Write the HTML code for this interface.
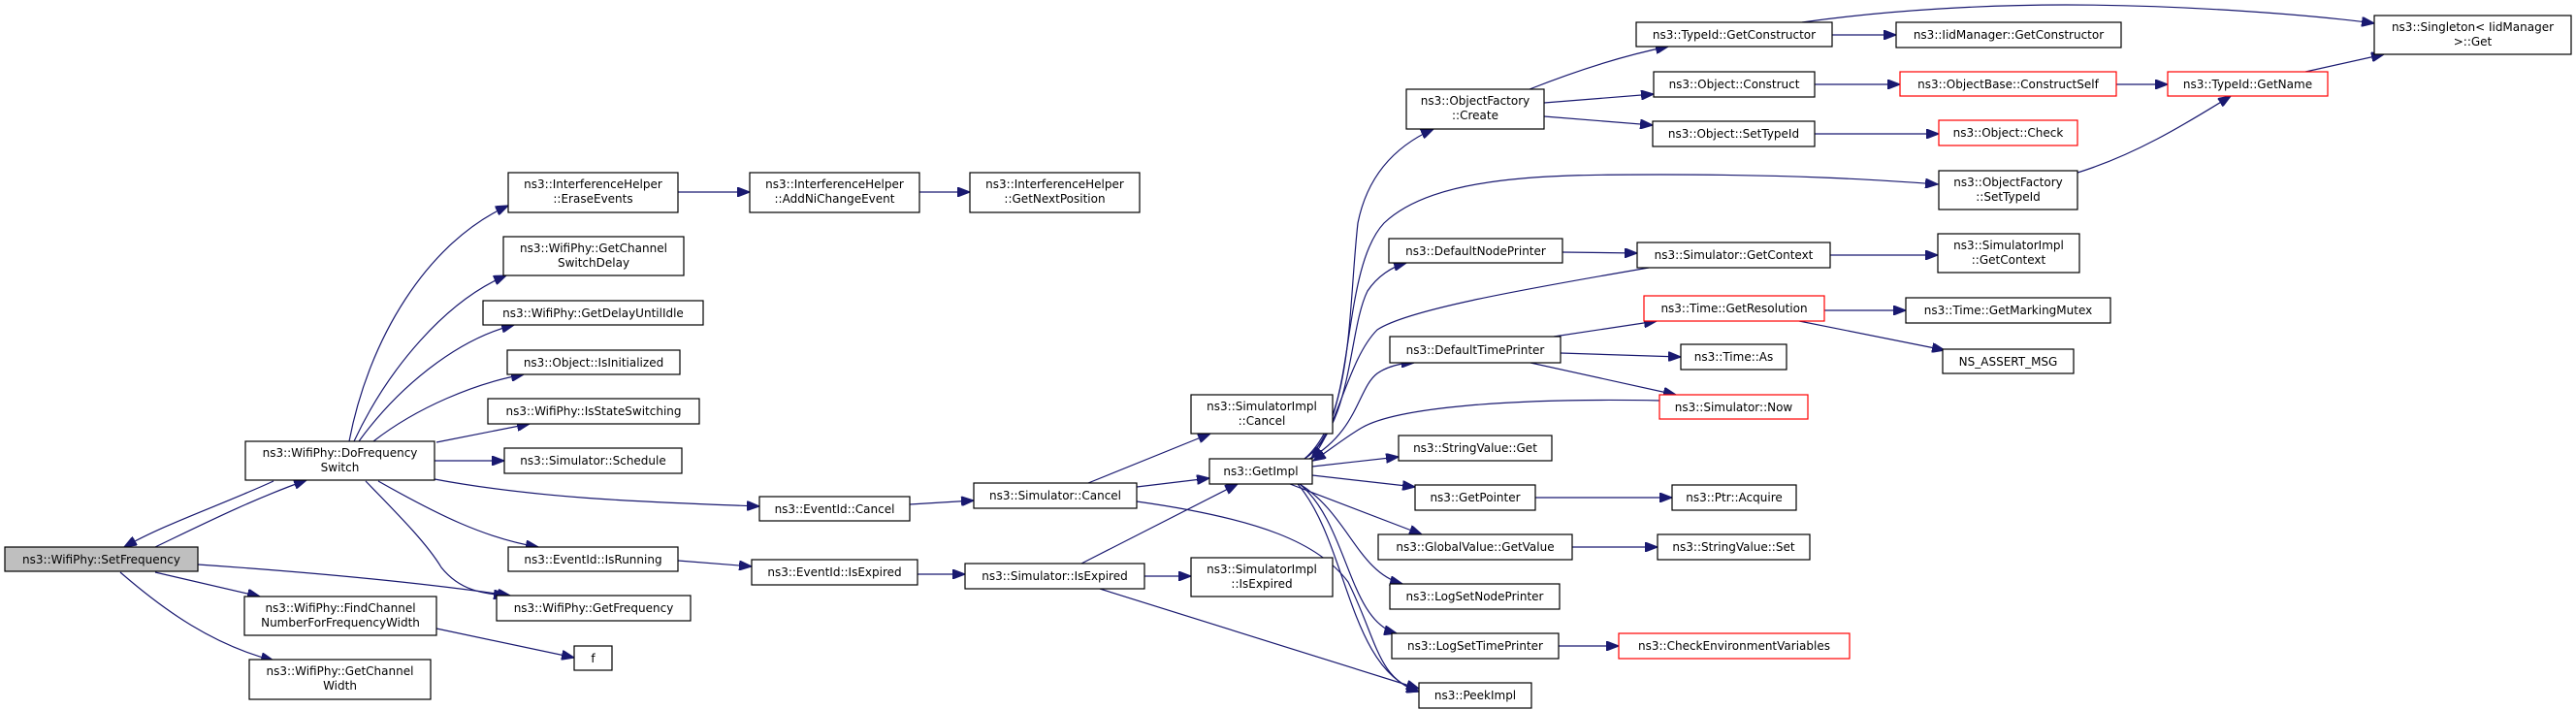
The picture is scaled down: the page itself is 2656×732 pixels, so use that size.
<!DOCTYPE html>
<html><head><meta charset="utf-8"><style>
html,body{margin:0;padding:0;background:#fff;}
svg{display:block;}
text{font-family:"DejaVu Sans","Liberation Sans",sans-serif;font-size:12px;fill:#000;}
.b{fill:#fff;stroke:#000;stroke-width:1.2;}
.r{fill:#fff;stroke:#f00;stroke-width:1.2;}
.g{fill:#bfbfbf;stroke:#000;stroke-width:1.2;}
path{fill:none;stroke:#191970;stroke-width:1.2;}
</style></head><body>
<svg width="2656" height="732" viewBox="0 0 2656 732" xmlns="http://www.w3.org/2000/svg">
<defs><marker id="a" markerUnits="userSpaceOnUse" markerWidth="14" markerHeight="10" refX="13" refY="5" orient="auto"><path d="M0,0 L13,5 L0,10 Z" style="fill:#191970;stroke:#191970"/></marker></defs>
<g marker-end="url(#a)">
<path d="M160,564 C210,540 260,515 316,495"/>
<path d="M282,496 C230,520 170,540 128,564"/>
<path d="M204,582 C320,590 430,600 526,614"/>
<path d="M160,590 L268,615"/>
<path d="M124,590 C170,630 220,665 282,681"/>
<path d="M360,455 C380,350 440,250 524,212"/>
<path d="M365,455 C400,380 460,310 522,284"/>
<path d="M370,455 C410,400 470,350 530,335"/>
<path d="M385,455 C430,420 490,395 540,386"/>
<path d="M450,456 L546,437"/>
<path d="M448,475 L520,475"/>
<path d="M448,494 C560,515 680,518 783,522"/>
<path d="M390,496 C450,530 500,555 555,564"/>
<path d="M377,496 C410,530 440,560 455,585 C475,610 500,612 522,614"/>
<path d="M699,198 L773,198"/>
<path d="M948,198 L1000,198"/>
<path d="M699,578 L775,584"/>
<path d="M938,520 L1004,516"/>
<path d="M946,592 L995,592"/>
<path d="M1122,498 L1248,447"/>
<path d="M1172,502 L1247,493"/>
<path d="M1172,517 C1300,535 1360,560 1390,600 C1420,660 1420,700 1463,713"/>
<path d="M1115,581 L1276,499"/>
<path d="M1180,594 L1228,594"/>
<path d="M1134,607 L1463,710"/>
<path d="M1345,473 C1395,430 1390,320 1400,230 C1410,180 1440,150 1478,133"/>
<path d="M1345,473 C1395,440 1390,340 1410,300 C1420,285 1435,275 1450,271"/>
<path d="M1350,473 C1400,445 1400,400 1420,385 C1430,378 1445,374 1458,374"/>
<path d="M1353,481 L1442,471"/>
<path d="M1353,490 L1459,502"/>
<path d="M1330,499 L1466,551"/>
<path d="M1340,499 C1390,530 1400,590 1446,602"/>
<path d="M1340,499 C1390,540 1390,640 1440,653"/>
<path d="M1338,499 C1390,560 1390,690 1463,713"/>
<path d="M1700,276 C1560,300 1450,320 1420,340 C1390,370 1380,440 1352,473"/>
<path d="M1345,473 C1400,440 1380,280 1427,230 C1480,180 1600,180 1712,180 C1850,180 1930,185 1998,190"/>
<path d="M1712,413 C1560,410 1440,420 1404,441 C1385,452 1370,465 1354,475"/>
<path d="M1611,260 L1688,261"/>
<path d="M1887,263 L1998,263"/>
<path d="M1577,92 C1620,75 1670,58 1720,48"/>
<path d="M1592,106 L1705,97"/>
<path d="M1592,120 L1704,129"/>
<path d="M1889,36 L1955,36"/>
<path d="M1858,23 C1950,10 2050,5 2130,5 C2250,5 2380,15 2448,24"/>
<path d="M1871,87 L1959,87"/>
<path d="M2182,87 L2235,87"/>
<path d="M2377,74 L2458,56"/>
<path d="M1871,138 L1999,138"/>
<path d="M2142,178 C2200,160 2250,130 2300,99"/>
<path d="M1602,347 L1708,331"/>
<path d="M1609,364 L1733,368"/>
<path d="M1578,374 L1728,407"/>
<path d="M1881,320 L1965,320"/>
<path d="M1855,331 L2005,361"/>
<path d="M1583,513 L1724,513"/>
<path d="M1621,564 L1709,564"/>
<path d="M1607,666 L1669,666"/>
<path d="M450,648 L592,678"/>
</g>
<g text-anchor="middle">
<rect class="g" x="5" y="564" width="199" height="25"/><text x="104.5" y="581">ns3::WifiPhy::SetFrequency</text>
<rect class="b" x="253" y="455" width="195" height="40"/><text x="350.5" y="471">ns3::WifiPhy::DoFrequency</text><text x="350.5" y="486">Switch</text>
<rect class="b" x="524" y="178" width="175" height="41"/><text x="611.5" y="194">ns3::InterferenceHelper</text><text x="611.5" y="209">::EraseEvents</text>
<rect class="b" x="519" y="244" width="186" height="40"/><text x="612" y="260">ns3::WifiPhy::GetChannel</text><text x="612" y="275">SwitchDelay</text>
<rect class="b" x="498" y="310" width="227" height="25"/><text x="611.5" y="327">ns3::WifiPhy::GetDelayUntilIdle</text>
<rect class="b" x="523" y="361" width="178" height="25"/><text x="612" y="378">ns3::Object::IsInitialized</text>
<rect class="b" x="503" y="411" width="218" height="26"/><text x="612" y="428">ns3::WifiPhy::IsStateSwitching</text>
<rect class="b" x="520" y="462" width="183" height="26"/><text x="611.5" y="479">ns3::Simulator::Schedule</text>
<rect class="b" x="524" y="564" width="175" height="25"/><text x="611.5" y="581">ns3::EventId::IsRunning</text>
<rect class="b" x="512" y="614" width="200" height="26"/><text x="612" y="631">ns3::WifiPhy::GetFrequency</text>
<rect class="b" x="252" y="615" width="198" height="40"/><text x="351" y="631">ns3::WifiPhy::FindChannel</text><text x="351" y="646">NumberForFrequencyWidth</text>
<rect class="b" x="592" y="666" width="39" height="25"/><text x="611.5" y="683">f</text>
<rect class="b" x="257" y="680" width="187" height="41"/><text x="350.5" y="696">ns3::WifiPhy::GetChannel</text><text x="350.5" y="711">Width</text>
<rect class="b" x="773" y="178" width="175" height="41"/><text x="860.5" y="194">ns3::InterferenceHelper</text><text x="860.5" y="209">::AddNiChangeEvent</text>
<rect class="b" x="1000" y="178" width="175" height="41"/><text x="1087.5" y="194">ns3::InterferenceHelper</text><text x="1087.5" y="209">::GetNextPosition</text>
<rect class="b" x="1228" y="407" width="146" height="40"/><text x="1301" y="423">ns3::SimulatorImpl</text><text x="1301" y="438">::Cancel</text>
<rect class="b" x="1247" y="473" width="106" height="26"/><text x="1300" y="490">ns3::GetImpl</text>
<rect class="b" x="1004" y="498" width="168" height="26"/><text x="1088" y="515">ns3::Simulator::Cancel</text>
<rect class="b" x="783" y="512" width="155" height="25"/><text x="860.5" y="529">ns3::EventId::Cancel</text>
<rect class="b" x="775" y="577" width="171" height="26"/><text x="860.5" y="594">ns3::EventId::IsExpired</text>
<rect class="b" x="995" y="581" width="185" height="26"/><text x="1087.5" y="598">ns3::Simulator::IsExpired</text>
<rect class="b" x="1228" y="575" width="146" height="40"/><text x="1301" y="591">ns3::SimulatorImpl</text><text x="1301" y="606">::IsExpired</text>
<rect class="b" x="1687" y="23" width="202" height="25"/><text x="1788" y="40">ns3::TypeId::GetConstructor</text>
<rect class="b" x="1450" y="92" width="142" height="41"/><text x="1521" y="108">ns3::ObjectFactory</text><text x="1521" y="123">::Create</text>
<rect class="b" x="1705" y="74" width="166" height="26"/><text x="1788" y="91">ns3::Object::Construct</text>
<rect class="b" x="1704" y="125" width="167" height="26"/><text x="1787.5" y="142">ns3::Object::SetTypeId</text>
<rect class="b" x="1432" y="246" width="179" height="25"/><text x="1521.5" y="263">ns3::DefaultNodePrinter</text>
<rect class="b" x="1688" y="250" width="199" height="26"/><text x="1787.5" y="267">ns3::Simulator::GetContext</text>
<rect class="r" x="1695" y="305" width="186" height="26"/><text x="1788" y="322">ns3::Time::GetResolution</text>
<rect class="b" x="1433" y="347" width="176" height="27"/><text x="1521" y="365">ns3::DefaultTimePrinter</text>
<rect class="b" x="1733" y="355" width="109" height="26"/><text x="1787.5" y="372">ns3::Time::As</text>
<rect class="r" x="1711" y="407" width="153" height="25"/><text x="1787.5" y="424">ns3::Simulator::Now</text>
<rect class="b" x="1442" y="449" width="158" height="26"/><text x="1521" y="466">ns3::StringValue::Get</text>
<rect class="b" x="1459" y="500" width="124" height="26"/><text x="1521" y="517">ns3::GetPointer</text>
<rect class="b" x="1724" y="500" width="128" height="26"/><text x="1788" y="517">ns3::Ptr::Acquire</text>
<rect class="b" x="1421" y="551" width="200" height="26"/><text x="1521" y="568">ns3::GlobalValue::GetValue</text>
<rect class="b" x="1709" y="551" width="157" height="26"/><text x="1787.5" y="568">ns3::StringValue::Set</text>
<rect class="b" x="1433" y="602" width="175" height="26"/><text x="1520.5" y="619">ns3::LogSetNodePrinter</text>
<rect class="b" x="1435" y="653" width="172" height="26"/><text x="1521" y="670">ns3::LogSetTimePrinter</text>
<rect class="r" x="1669" y="653" width="238" height="26"/><text x="1788" y="670">ns3::CheckEnvironmentVariables</text>
<rect class="b" x="1463" y="704" width="116" height="26"/><text x="1521" y="721">ns3::PeekImpl</text>
<rect class="b" x="1955" y="23" width="232" height="26"/><text x="2071" y="40">ns3::IidManager::GetConstructor</text>
<rect class="r" x="1959" y="74" width="223" height="25"/><text x="2070.5" y="91">ns3::ObjectBase::ConstructSelf</text>
<rect class="r" x="2235" y="74" width="165" height="25"/><text x="2317.5" y="91">ns3::TypeId::GetName</text>
<rect class="r" x="1999" y="124" width="143" height="26"/><text x="2070.5" y="141">ns3::Object::Check</text>
<rect class="b" x="1999" y="176" width="143" height="40"/><text x="2070.5" y="192">ns3::ObjectFactory</text><text x="2070.5" y="207">::SetTypeId</text>
<rect class="b" x="1998" y="241" width="146" height="40"/><text x="2071" y="257">ns3::SimulatorImpl</text><text x="2071" y="272">::GetContext</text>
<rect class="b" x="1965" y="307" width="211" height="26"/><text x="2070.5" y="324">ns3::Time::GetMarkingMutex</text>
<rect class="b" x="2003" y="360" width="135" height="25"/><text x="2070.5" y="377">NS_ASSERT_MSG</text>
<rect class="b" x="2448" y="16" width="203" height="40"/><text x="2549.5" y="32">ns3::Singleton&lt; IidManager</text><text x="2549.5" y="47">&gt;::Get</text>
</g>
</svg>
</body></html>
